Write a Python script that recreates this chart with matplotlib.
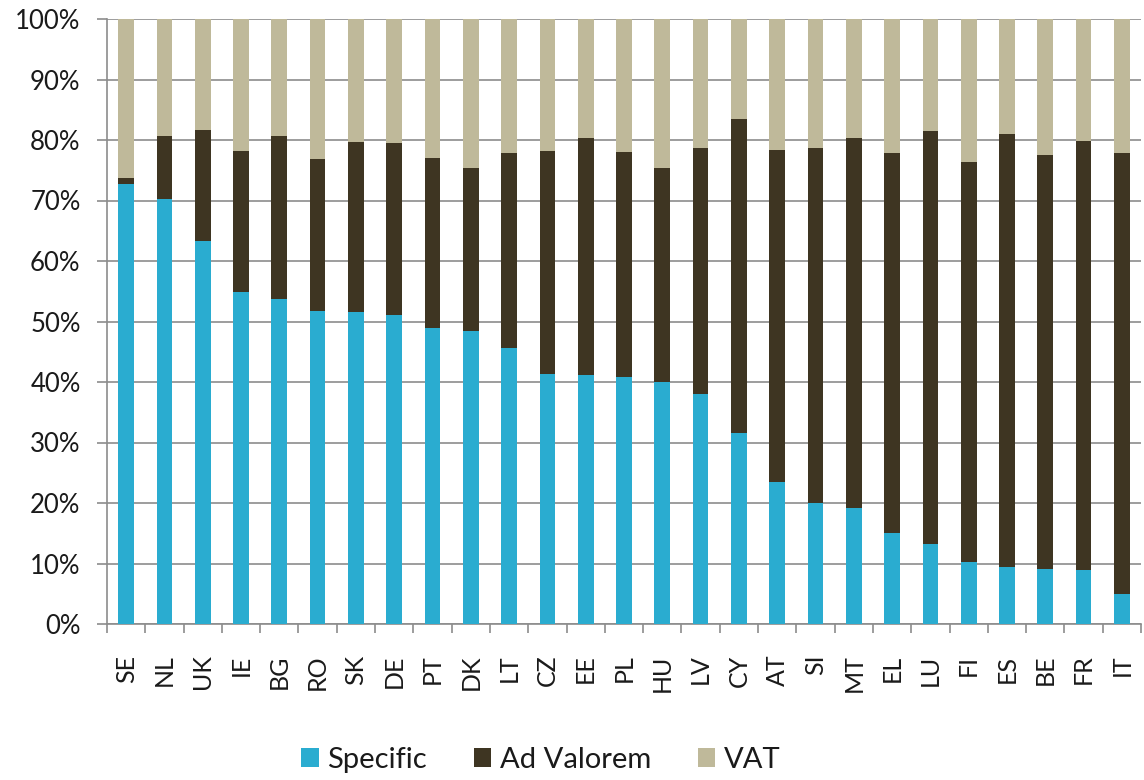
import matplotlib
matplotlib.use("Agg")
import matplotlib.pyplot as plt
import numpy as np
from matplotlib.ticker import FixedLocator, PercentFormatter

countries = ["SE", "NL", "UK", "IE", "BG", "RO", "SK", "DE", "PT", "DK", "LT", "CZ", "EE", "PL",
             "HU", "LV", "CY", "AT", "SI", "MT", "EL", "LU", "FI", "ES", "BE", "FR", "IT"]
specific = [72.7, 70.2, 63.3, 54.9, 53.7, 51.7, 51.5, 51.1, 49.0, 48.4, 45.6, 41.4, 41.2, 40.9,
            40.0, 38.0, 31.5, 23.4, 20.0, 19.2, 15.0, 13.3, 10.2, 9.5, 9.1, 8.9, 4.9]
ad_valorem = [1.1, 10.5, 18.4, 23.2, 27.0, 25.2, 28.2, 28.4, 28.1, 26.9, 32.2, 36.8, 39.2, 37.1,
              35.3, 40.6, 52.0, 55.0, 58.6, 61.1, 62.8, 68.2, 66.1, 71.5, 68.4, 70.9, 72.9]
vat = [26.2, 19.3, 18.3, 21.9, 19.3, 23.1, 20.3, 20.5, 22.9, 24.7, 22.2, 21.8, 19.6, 22.0,
       24.7, 21.4, 16.5, 21.6, 21.4, 19.7, 22.2, 18.5, 23.7, 19.0, 22.5, 20.2, 22.2]
series_names = ["Specific", "Ad Valorem", "VAT"]
colors = ["#2AACD0", "#3E3522", "#BFB99A"]

W, H = 1144, 780
fig = plt.figure(figsize=(W / 100, H / 100), dpi=100)
ax = fig.add_axes([107 / W, 1 - 624 / H, (1141 - 107) / W, (624 - 19) / H])

x = np.arange(len(countries))
bw = 0.41
s = np.array(specific)
a = np.array(ad_valorem)
v = np.array(vat)
ax.bar(x, s, bw, color=colors[0], label=series_names[0], zorder=3)
ax.bar(x, a, bw, bottom=s, color=colors[1], label=series_names[1], zorder=3)
ax.bar(x, v, bw, bottom=s + a, color=colors[2], label=series_names[2], zorder=3)

ax.set_xlim(-0.5, len(countries) - 0.5)
ax.set_ylim(0, 100)
ax.set_yticks(np.arange(0, 101, 10))
ax.yaxis.set_major_formatter(PercentFormatter(decimals=0))
ax.grid(axis="y", color="#8c8c8c", linewidth=1.2, zorder=0)
ax.set_axisbelow(True)

gray = "#8c8c8c"
for sp in ["top", "right"]:
    ax.spines[sp].set_visible(False)
for sp in ["left", "bottom"]:
    ax.spines[sp].set_color(gray)
    ax.spines[sp].set_linewidth(1.2)

tick_font = "Lato"
ax.tick_params(axis="y", length=7, width=1.2, color=gray, pad=12, labelsize=18.5)
for lbl in ax.get_yticklabels():
    lbl.set_fontfamily(tick_font)
    lbl.set_color("#1a1a1a")

ax.set_xticks(x)
ax.set_xticklabels(countries, rotation=90, fontsize=18, fontfamily=tick_font, color="#1a1a1a")
ax.tick_params(axis="x", which="major", length=0, pad=22)
ax.xaxis.set_minor_locator(FixedLocator(np.arange(-0.5, len(countries), 1.0)))
ax.tick_params(axis="x", which="minor", length=6.5, width=1.2, color=gray)
for lbl in ax.get_xticklabels():
    lbl.set_va("top")

leg = fig.legend(loc="center", bbox_to_anchor=(541 / W, 1 - 760 / H), ncol=3, frameon=False,
                 handlelength=0.6, handleheight=0.6, handletextpad=0.3, columnspacing=1.6,
                 prop={"family": tick_font, "size": 21})
for t in leg.get_texts():
    t.set_color("#1a1a1a")

fig.savefig("out.png", dpi=100, facecolor="white")
